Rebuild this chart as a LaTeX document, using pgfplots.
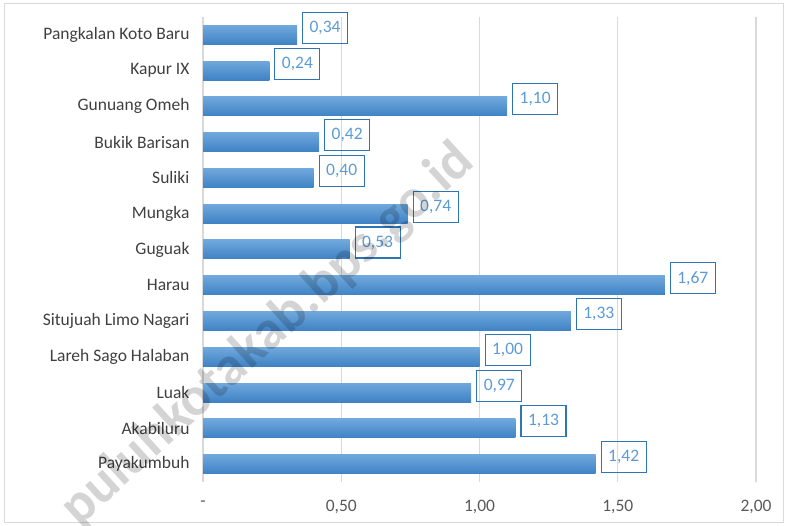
\documentclass[border=0pt]{standalone}
\usepackage{fontspec}
\setmainfont{Carlito}
\usepackage{pgfplots}
\pgfplotsset{compat=1.18}

\definecolor{barTop}{HTML}{70A8DC}
\definecolor{barBot}{HTML}{3F82C5}
\definecolor{lblText}{HTML}{5B9BD5}
\definecolor{lblEdge}{HTML}{2E75B6}
\definecolor{gridGray}{HTML}{D9D9D9}
\definecolor{catGray}{HTML}{404040}
\definecolor{tickGray}{HTML}{595959}

\pgfplotsset{
    onebar/.style={draw=none, top color=barTop, bottom color=barBot},
}

\begin{document}
\begin{tikzpicture}[font=\fontsize{17.5}{21}\selectfont]
\useasboundingbox (0,0) rectangle (787pt,525pt);
\draw[gridGray, line width=1pt] (4pt,3pt) rectangle (783pt,521pt);
\begin{axis}[
    at={(203pt,43pt)}, anchor=south west,
    scale only axis,
    width=553pt, height=465pt,
    xmin=0, xmax=2,
    ymin=-0.5, ymax=12.5,
    xbar, bar width=19pt, bar shift=0pt,
    xtick={0,0.5,1,1.5,2},
    xticklabels={{-},{0,50},{1,00},{1,50},{2,00}},
    ytick={0,...,12},
    yticklabels={Payakumbuh, Akabiluru, Luak, Lareh Sago Halaban,
        Situjuah Limo Nagari, Harau, Guguak, Mungka, Suliki,
        Bukik Barisan, Gunuang Omeh, Kapur IX, Pangkalan Koto Baru},
    xticklabel style={text=tickGray, yshift=-15pt},
    yticklabel style={text=catGray, xshift=-10pt},
    axis line style={draw=none},
    major tick length=0pt,
    xmajorgrids,
    grid style={gridGray, line width=1.2pt},
    point meta=explicit symbolic,
    nodes near coords,
    every node near coord/.append style={
        anchor=west, xshift=5pt, yshift=7pt,
        draw=lblEdge, line width=1.1pt, text=lblText,
        minimum width=45pt, minimum height=31pt, inner sep=0pt},
]
% one plot per bar so each bar gets its own gradient
\addplot[onebar] coordinates {(1.42,0) [1,42]};
\addplot[onebar] coordinates {(1.13,1) [1,13]};
\addplot[onebar] coordinates {(0.97,2) [0,97]};
\addplot[onebar] coordinates {(1.00,3) [1,00]};
\addplot[onebar] coordinates {(1.33,4) [1,33]};
\addplot[onebar] coordinates {(1.67,5) [1,67]};
\addplot[onebar] coordinates {(0.53,6) [0,53]};
\addplot[onebar] coordinates {(0.74,7) [0,74]};
\addplot[onebar] coordinates {(0.40,8) [0,40]};
\addplot[onebar] coordinates {(0.42,9) [0,42]};
\addplot[onebar] coordinates {(1.10,10) [1,10]};
\addplot[onebar] coordinates {(0.24,11) [0,24]};
\addplot[onebar] coordinates {(0.34,12) [0,34]};
\end{axis}
% watermark
\node[rotate=42.4, text=black, opacity=0.17,
      font=\fontsize{55}{58}\selectfont\bfseries] at (268pt,190pt) {puluhkotakab.bps.go.id};
\end{tikzpicture}
\end{document}
